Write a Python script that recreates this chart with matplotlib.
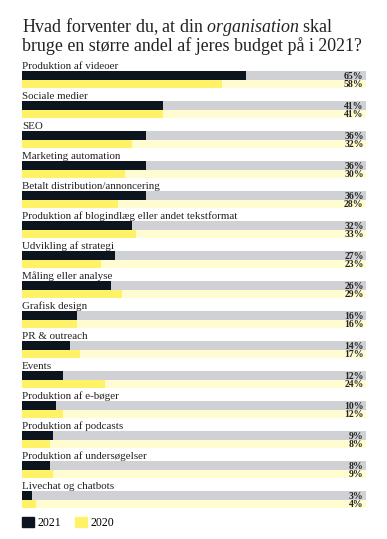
import numpy as np
import matplotlib.pyplot as plt
from matplotlib.patches import Patch

plt.rcParams['font.family'] = ['Liberation Serif', 'DejaVu Serif']
plt.rcParams['mathtext.fontset'] = 'custom'
plt.rcParams['mathtext.rm'] = 'Liberation Serif'
plt.rcParams['mathtext.it'] = 'Liberation Serif:italic'

# data
categories = ['Produktion af videoer', 'Sociale medier', 'SEO', 'Marketing automation',
              'Betalt distribution/annoncering',
              'Produktion af blogindlæg eller andet tekstformat',
              'Udvikling af strategi', 'Måling eller analyse', 'Grafisk design',
              'PR & outreach', 'Events', 'Produktion af e-bøger',
              'Produktion af podcasts', 'Produktion af undersøgelser',
              'Livechat og chatbots']
v2021 = [65, 41, 36, 36, 36, 32, 27, 26, 16, 14, 12, 10, 9, 8, 3]
v2020 = [58, 41, 32, 30, 28, 33, 23, 29, 16, 17, 24, 12, 8, 9, 4]

dark = '#0c141d'
gray = '#cfd1d4'
yellow = '#fff266'
light = '#fffcd2'

W, H = 387, 539
fig = plt.figure(figsize=(W / 100, H / 100), dpi=100)
ax = fig.add_axes([22 / W, 1 - 509.3 / H, (366 - 22) / W, (509.3 - 53.3) / H])

y = np.arange(len(categories))
bh = 0.285  # bar height in group units (1 group = 30 px)

# background tracks
ax.barh(y, 100, height=bh, align='edge', color=gray)
ax.barh(y + bh, 100, height=bh, align='edge', color=light)
# values
ax.barh(y, v2021, height=bh, align='edge', color=dark)
ax.barh(y + bh, v2020, height=bh, align='edge', color=yellow)

for i in range(len(categories)):
    ax.text(0, i - 0.09, categories[i], fontsize=7.9, color='#222222', va='baseline', ha='left')
    ax.text(99.3, i + bh / 2 + 0.02, f'{v2021[i]}%', fontsize=7, fontweight='bold',
            color='#222222', ha='right', va='center')
    ax.text(99.3, i + 1.5 * bh + 0.02, f'{v2020[i]}%', fontsize=7, fontweight='bold',
            color='#222222', ha='right', va='center')

ax.set_xlim(0, 100)
ax.set_ylim(14.6, -0.6)
ax.axis('off')

title = ('Hvad forventer du, at din $\\it{organisation}$ skal\n'
         'bruge en større andel af jeres budget på i 2021?')
fig.text(22 / W, 1 - 15.5 / H, title, fontsize=12.9, color='#222222', va='top',
         linespacing=0.95)

handles = [Patch(color=dark, label='2021'), Patch(color=yellow, label='2020')]
fig.legend(handles=handles, loc='upper left', bbox_to_anchor=(17 / W, 1 - 512 / H),
           ncol=2, frameon=False, fontsize=8.5, handlelength=1.0, handleheight=1.0,
           handletextpad=0.3, columnspacing=1.2, borderaxespad=0)

fig.savefig('out.png', dpi=100, facecolor='white')
